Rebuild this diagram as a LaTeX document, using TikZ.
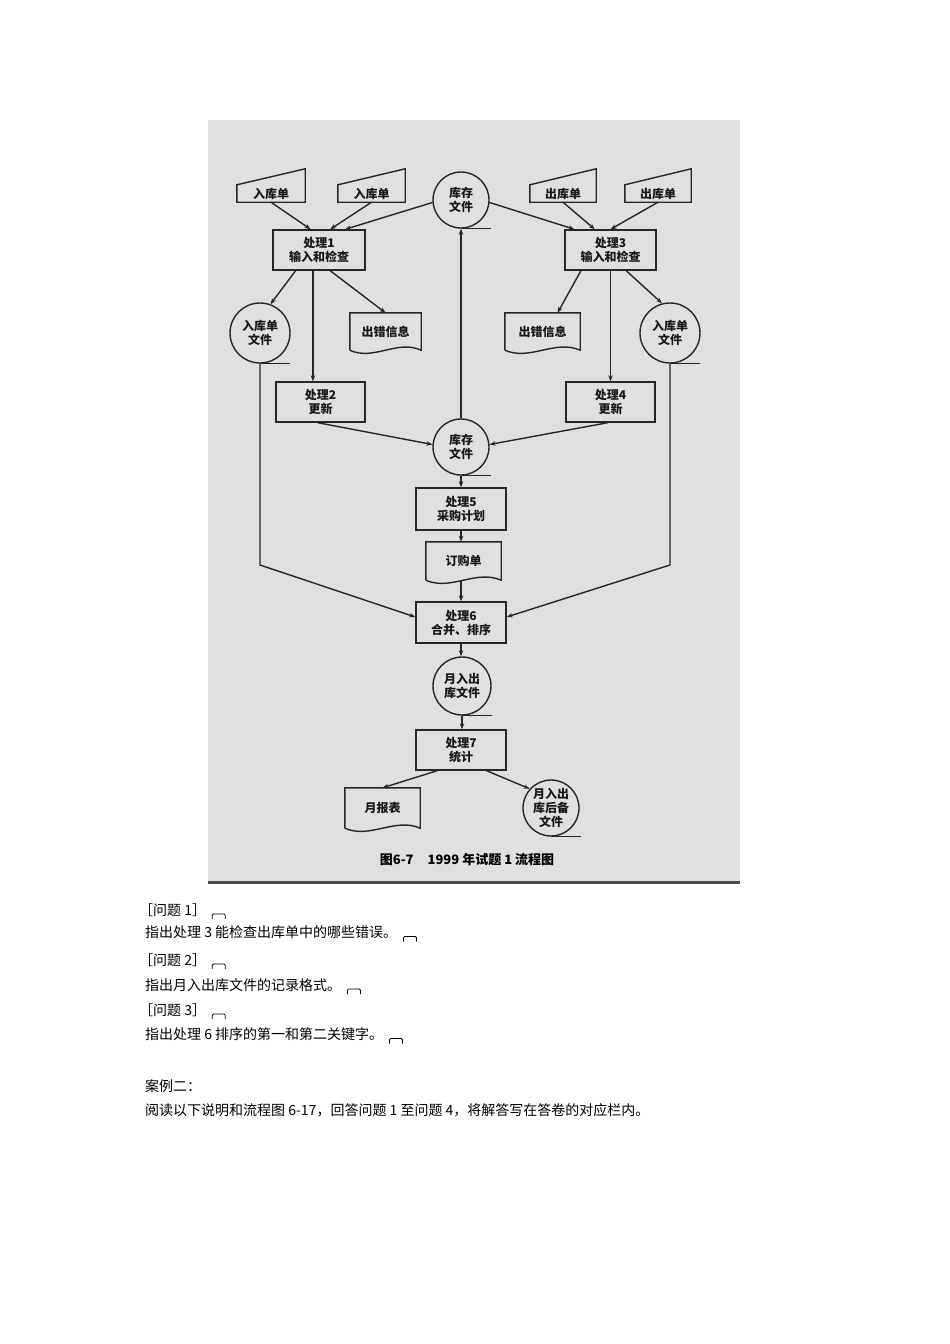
\documentclass[tikz,border=0pt]{standalone}
\usepackage{fontspec}
\setmainfont{Noto Sans CJK SC}
\usetikzlibrary{arrows.meta,calc}
\newcommand\mydoc[2]{\draw[ln] (#1.south west) -- (#1.north west) -- (#1.north east) -- (#1.south east) .. controls +(-#2/3,-11) and +(#2/3,11) .. (#1.south west);}
\newcommand\myinput[1]{\draw[ln] (#1.south west) -- (#1.south east) -- ($(#1.north east)+(0,-16)$) -- (#1.north west) -- cycle;}
\newcommand\mytape[1]{\draw[ln] (#1.south) -- ++(30,0);}
\newcommand\mymark[1]{\draw[line width=0.8pt, rounded corners=1.2pt] ($(#1.east)+(6,9)$) -- ($(#1.east)+(6,4)$) -- ($(#1.east)+(19,4)$) -- ($(#1.east)+(19,9)$);}
\begin{document}
\begin{tikzpicture}[x=1pt,y=-1pt,
  ln/.style={line width=1.4pt, draw=black!85},
  arr/.style={ln, -{Stealth[length=6pt,width=4.5pt]}},
  lbl/.style={font=\fontsize{12}{14}\selectfont\bfseries, align=center, inner sep=0pt, text=black!90},
  proc/.style={lbl, draw=black!85, line width=1.4pt, rectangle},
  stor/.style={lbl, draw=black!85, line width=1.4pt, circle},
  body/.style={font=\fontsize{14}{16}\selectfont, anchor=west, inner sep=0pt}
]
\useasboundingbox (0,0) rectangle (950,1344);
\fill[white] (0,0) rectangle (950,1344);
\fill[black!12] (208,120) rectangle (740,884);
\draw[line width=3pt, black!70] (208,882.5) -- (740,882.5);

% inputs
\node[lbl, minimum width=68pt, minimum height=17pt] (i1) at (271,193.5) {入库单};
\node[lbl, minimum width=67pt, minimum height=17pt] (i2) at (371.5,193.5) {入库单};
\node[lbl, minimum width=66pt, minimum height=17pt] (o1) at (563,193.5) {出库单};
\node[lbl, minimum width=66pt, minimum height=17pt] (o2) at (658,193.5) {出库单};
\myinput{i1}\myinput{i2}\myinput{o1}\myinput{o2}

% storage
\node[stor, minimum size=56pt] (s1) at (461,200) {库存\\文件};
\node[stor, minimum size=60pt] (f1) at (260,333) {入库单\\文件};
\node[stor, minimum size=60pt] (f2) at (670,333) {入库单\\文件};
\node[stor, minimum size=56pt] (s2) at (461,447) {库存\\文件};
\node[stor, minimum size=58pt] (m1) at (462,686) {月入出\\库文件};
\node[stor, minimum size=56pt] (m2) at (551,808) {月入出\\库后备\\文件};
\mytape{s1}\mytape{f1}\mytape{f2}\mytape{s2}\mytape{m1}\mytape{m2}

% processes
\node[proc, minimum width=92pt, minimum height=40pt] (p1) at (319,250) {处理1\\输入和检查};
\node[proc, minimum width=91pt, minimum height=40pt] (p3) at (610.5,250) {处理3\\输入和检查};
\node[proc, minimum width=89pt, minimum height=40pt] (p2) at (320.5,402) {处理2\\更新};
\node[proc, minimum width=89pt, minimum height=40pt] (p4) at (610.5,402) {处理4\\更新};
\node[proc, minimum width=90pt, minimum height=42pt] (p5) at (461,509) {处理5\\采购计划};
\node[proc, minimum width=90pt, minimum height=41pt] (p6) at (461,622.5) {处理6\\合并、排序};
\node[proc, minimum width=90pt, minimum height=40pt] (p7) at (461,750) {处理7\\统计};

% documents
\node[lbl, minimum width=71pt, minimum height=37pt] (e1) at (385.5,331.5) {出错信息};
\node[lbl, minimum width=75pt, minimum height=37pt] (e2) at (542.5,331.5) {出错信息};
\node[lbl, minimum width=75pt, minimum height=38pt] (d1) at (463.5,561) {订购单};
\node[lbl, minimum width=75pt, minimum height=40pt] (r1) at (382.5,808) {月报表};
\mydoc{e1}{71}\mydoc{e2}{75}\mydoc{d1}{75}\mydoc{r1}{75}

% connectors top
\draw[arr] (i1.south) -- ($(p1.north west)!0.41!(p1.north east)$);
\draw[arr] (i2.south) -- ($(p1.north west)!0.62!(p1.north east)$);
\draw[arr] (s1.185) -- ($(p1.north west)!0.78!(p1.north east)$);
\draw[arr] (s1.-5) -- ($(p3.north west)!0.11!(p3.north east)$);
\draw[arr] (o1.south) -- ($(p3.north west)!0.33!(p3.north east)$);
\draw[arr] (o2.south) -- (p3.north);

% from p1
\draw[arr] ($(p1.south west)!0.25!(p1.south east)$) -- (f1.70);
\coordinate (a1) at ($(p1.south west)!0.435!(p1.south east)$);
\draw[arr] (a1) -- (a1 |- p2.north);
\draw[arr] ($(p1.south west)!0.62!(p1.south east)$) -- (e1.north);
% from p3
\draw[arr] ($(p3.south west)!0.18!(p3.south east)$) -- ($(e2.north west)!0.7!(e2.north east)$);
\draw[arr] (p3.south) -- (p4.north);
\draw[arr] ($(p3.south west)!0.67!(p3.south east)$) -- (f2.105);

% to s2
\draw[arr] ($(p2.south west)!0.47!(p2.south east)$) -- (s2.175);
\draw[arr] ($(p4.south west)!0.47!(p4.south east)$) -- (s2.5);
\draw[arr] (s2.north) -- (s1.south);

% middle chain
\draw[arr] (s2.south) -- (p5.north);
\draw[arr] (p5.south) -- (p5.south |- d1.north);
\draw[arr] (p6.north |- d1.south) -- (p6.north);
\coordinate (b1) at (260,565);
\coordinate (b2) at (670,565);
\draw[arr] (f1.south) -- (b1) -- ($(p6.north west)!0.37!(p6.south west)$);
\draw[arr] (f2.south) -- (b2) -- ($(p6.north east)!0.37!(p6.south east)$);
\draw[arr] (p6.south) -- (p6.south |- m1.north);
\draw[arr] (m1.south) -- (m1.south |- p7.north);
\draw[arr] ($(p7.south west)!0.24!(p7.south east)$) -- (r1.north);
\draw[arr] ($(p7.south west)!0.78!(p7.south east)$) -- (m2.138);

% caption
\node[font=\fontsize{13}{15}\selectfont\bfseries, inner sep=0pt] (cap) at (467,860) {图6-7\hspace{14pt}1999 年试题 1 流程图};

% body text
\node[body] (q1) at (139,910) {［问题 1］};
\node[body] (t1) at (145,932.5) {指出处理 3 能检查出库单中的哪些错误。};
\node[body] (q2) at (139,960) {［问题 2］};
\node[body] (t2) at (145,985) {指出月入出库文件的记录格式。};
\node[body] (q3) at (139,1010) {［问题 3］};
\node[body] (t3) at (145,1034.5) {指出处理 6 排序的第一和第二关键字。};
\node[body] (c1) at (145,1086.5) {案例二：};
\node[body] (c2) at (145,1110.5) {阅读以下说明和流程图 6-17，回答问题 1 至问题 4，将解答写在答卷的对应栏内。};
\mymark{q1}\mymark{t1}\mymark{q2}\mymark{t2}\mymark{q3}\mymark{t3}
\end{tikzpicture}
\end{document}
